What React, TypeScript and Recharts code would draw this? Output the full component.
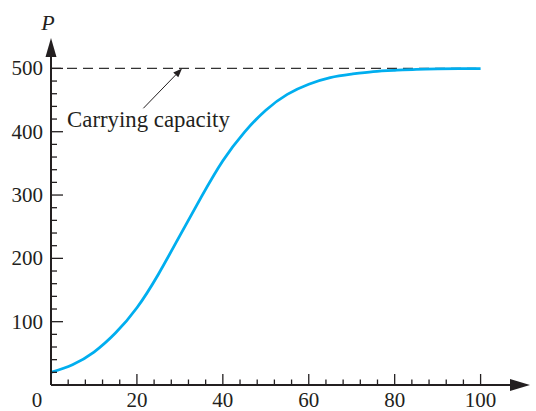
import { Line, LineChart, ReferenceDot, ReferenceLine, XAxis, YAxis } from "recharts"

// time (x) and population (P)
const years = [0, 5, 10, 15, 20, 25, 30, 35, 40, 45, 50, 55, 60, 65, 70, 75, 80, 85, 90, 95, 100]
const population = [20, 32, 52, 82, 122, 175, 236, 297, 354, 399, 434, 459, 475, 485.5, 491, 495, 497, 498.4, 499.1, 499.5, 499.7]

const xTicks = [0, 4, 8, 12, 16, 20, 24, 28, 32, 36, 40, 44, 48, 52, 56, 60, 64, 68, 72, 76, 80, 84, 88, 92, 96, 100]
const yTicks = [20, 40, 60, 80, 100, 120, 140, 160, 180, 200, 220, 240, 260, 280, 300, 320, 340, 360, 380, 400, 420, 440, 460, 480, 500]

const capacity = 500
const xMax = 111.5
const yMax = 548

const data = years.map((t, i) => ({ t, p: population[i] }))

const INK = "#231f20"
const FONT = "'Liberation Serif', 'Times New Roman', serif"

const XTick = ({ x, y, payload }: any) => {
  const v = payload.value
  const major = v % 20 === 0
  return (
    <g>
      {v !== 0 && <line x1={x} y1={y} x2={x} y2={y - (major ? 11 : 5.5)} stroke={INK} strokeWidth={1.3} />}
      {major && (
        <text x={v === 0 ? x - 14 : x} y={y + 21.5} textAnchor="middle" fontFamily={FONT} fontSize={21} fill={INK}>
          {v}
        </text>
      )}
    </g>
  )
}

const YTick = ({ x, y, payload }: any) => {
  const v = payload.value
  const major = v % 100 === 0
  return (
    <g>
      <line x1={x} y1={y} x2={x + (major ? 12 : 6)} y2={y} stroke={INK} strokeWidth={1.3} />
      {major && (
        <text x={x - 8} y={y + 7} textAnchor="end" fontFamily={FONT} fontSize={21} fill={INK}>
          {v}
        </text>
      )}
    </g>
  )
}

const arrowShape = (len: number, hw: number, width: number) => (props: any) => {
  const { x1, y1, x2, y2 } = props
  const a = Math.atan2(y2 - y1, x2 - x1)
  const bx = x2 - len * Math.cos(a)
  const by = y2 - len * Math.sin(a)
  const px = -Math.sin(a) * hw
  const py = Math.cos(a) * hw
  return (
    <g>
      <line x1={x1} y1={y1} x2={bx} y2={by} stroke={INK} strokeWidth={width} />
      <polygon points={`${x2},${y2} ${bx + px},${by + py} ${bx - px},${by - py}`} fill={INK} />
    </g>
  )
}

export default function App() {
  return (
    <div style={{ position: "absolute", left: 0, top: 0, width: 536, height: 411, background: "#fff" }}>
      <LineChart width={536} height={411} data={data} margin={{ top: 38, right: 6, bottom: 0, left: 0 }}>
        <XAxis
          type="number"
          dataKey="t"
          domain={[0, xMax]}
          ticks={xTicks}
          interval={0}
          tick={<XTick />}
          axisLine={false}
          tickLine={false}
          tickSize={0}
          tickMargin={0}
          height={26}
        />
        <YAxis
          type="number"
          domain={[0, yMax]}
          ticks={yTicks}
          interval={0}
          tick={<YTick />}
          axisLine={false}
          tickLine={false}
          tickSize={0}
          tickMargin={0}
          width={51}
        />
        <ReferenceLine
          segment={[{ x: 0, y: capacity }, { x: 99, y: capacity }]}
          stroke="#333"
          strokeWidth={1.3}
          strokeDasharray="10 6"
          ifOverflow="visible"
        />
        <Line
          type="natural"
          dataKey="p"
          stroke="#00aeef"
          strokeWidth={2.8}
          dot={false}
          isAnimationActive={false}
        />
        <ReferenceLine
          segment={[{ x: 0, y: 0 }, { x: xMax, y: 0 }]}
          shape={arrowShape(20, 6, 2)}
          ifOverflow="visible"
        />
        <ReferenceLine
          segment={[{ x: 0, y: 0 }, { x: 0, y: yMax }]}
          shape={arrowShape(19, 5.5, 2)}
          ifOverflow="visible"
        />
        <ReferenceLine
          segment={[{ x: 21.5, y: 437 }, { x: 30.5, y: capacity }]}
          shape={arrowShape(9, 3.5, 1)}
          ifOverflow="visible"
        />
        <ReferenceDot
          x={3.75}
          y={407}
          ifOverflow="visible"
          shape={(p: any) => (
            <text x={p.cx} y={p.cy} fontFamily={FONT} fontSize={22.8} fill={INK}>
              Carrying capacity
            </text>
          )}
        />
        <ReferenceDot
          x={0}
          y={yMax}
          ifOverflow="visible"
          shape={(p: any) => (
            <text x={p.cx - 3} y={p.cy - 8} textAnchor="middle" fontFamily={FONT} fontStyle="italic" fontSize={22} fill={INK}>
              P
            </text>
          )}
        />
      </LineChart>
    </div>
  )
}
